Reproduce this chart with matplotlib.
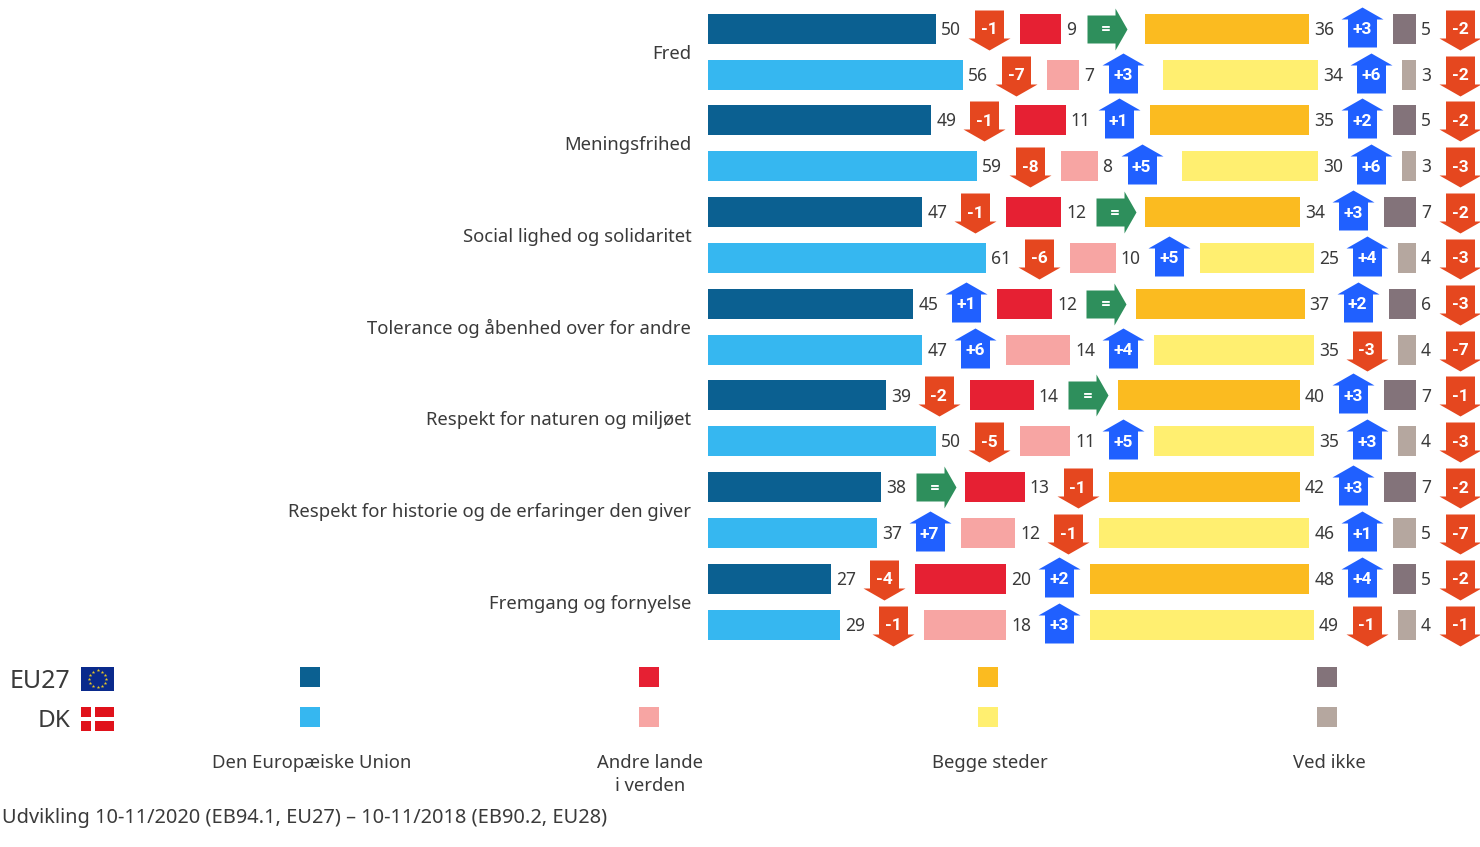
import numpy as np
import matplotlib
matplotlib.use('Agg')
import matplotlib.pyplot as plt
from matplotlib.path import Path
from matplotlib.patches import Rectangle
from matplotlib.transforms import Affine2D

plt.rcParams['font.family'] = ['Noto Sans', 'DejaVu Sans']

categories = ['Fred', 'Meningsfrihed', 'Social lighed og solidaritet', 'Tolerance og åbenhed over for andre',
              'Respekt for naturen og miljøet', 'Respekt for historie og de erfaringer den giver',
              'Fremgang og fornyelse']
legend_labels = ['Den Europæiske Union', 'Andre lande\ni verden', 'Begge steder', 'Ved ikke']
footnote = 'Udvikling 10-11/2020 (EB94.1, EU27) – 10-11/2018 (EB90.2, EU28)'

# each list goes EU27, DK, EU27, DK ... per category
union = [50, 56, 49, 59, 47, 61, 45, 47, 39, 50, 38, 37, 27, 29]
other = [9, 7, 11, 8, 12, 10, 12, 14, 14, 11, 13, 12, 20, 18]
both = [36, 34, 35, 30, 34, 25, 37, 35, 40, 35, 42, 46, 48, 49]
dont_know = [5, 3, 5, 3, 7, 4, 6, 4, 7, 4, 7, 5, 5, 4]

union_change = ['-1', '-7', '-1', '-8', '-1', '-6', '+1', '+6', '-2', '-5', '=', '+7', '-4', '-1']
other_change = ['=', '+3', '+1', '+5', '=', '+5', '=', '+4', '=', '+5', '-1', '-1', '+2', '+3']
both_change = ['+3', '+6', '+2', '+6', '+3', '+4', '+2', '-3', '+3', '+3', '+3', '+1', '+4', '-1']
dk_change = ['-2', '-2', '-2', '-3', '-2', '-3', '-3', '-7', '-1', '-3', '-2', '-7', '-2', '-1']

eu_colors = ['#0B6091', '#E62033', '#FBBB20', '#83737A']
dk_colors = ['#36B7F0', '#F7A5A3', '#FFEF70', '#B5A79F']

C_DOWN = '#E5471F'
C_UP = '#2060FF'
C_SAME = '#2E8F5C'
TXT = '#3a3a3a'

W, H = 1480, 847
PX = 4.56          # pixels per percent
GAP = 84 / PX      # space between the stacked segments
ROW = 45.85        # pixels per row

fig = plt.figure(figsize=(W / 100, H / 100), dpi=100)
ax = fig.add_axes([708 / W, 0, 772 / W, 1])
ax.set_xlim(0, 772 / PX)
ax.set_ylim((H - 28.7) / ROW, -28.7 / ROW)

arrow_up = Path([(-14.5, -20), (14.5, -20), (14.5, 8), (21, 8), (0, 20), (-21, 8), (-14.5, 8), (-14.5, -20)])
arrow_down = arrow_up.transformed(Affine2D().scale(1, -1))
arrow_right = Path([(-20, -14), (8, -14), (8, -21), (20, 0), (8, 21), (8, 14), (-20, 14), (-20, -14)])
MS = 42 * 0.72


def draw_change(x, y, change):
    if change == '=':
        ax.plot(x + 1.5 / PX, y, marker=arrow_right, ms=MS, color=C_SAME, mew=0, zorder=3)
    elif change.startswith('+'):
        ax.plot(x, y - 2 / ROW, marker=arrow_up, ms=MS, color=C_UP, mew=0, zorder=3)
    else:
        ax.plot(x, y + 1 / ROW, marker=arrow_down, ms=MS, color=C_DOWN, mew=0, zorder=3)
    label_x = x + 1 / PX if change == '=' else x
    ax.text(label_x, y + 1 / ROW, change, color='white', fontsize=12.5, family='Roboto', fontweight='bold',
            ha='center', va='center', zorder=4)


segments = [(union, union_change), (other, other_change), (both, both_change), (dont_know, dk_change)]
y_pos = np.arange(len(union))
left = np.zeros(len(union))
for k, (vals, changes) in enumerate(segments):
    colors = [eu_colors[k] if i % 2 == 0 else dk_colors[k] for i in y_pos]
    ax.barh(y_pos, vals, left=left, height=30 / ROW, color=colors, linewidth=0, zorder=2)
    for i, v in enumerate(vals):
        end = left[i] + v
        ax.text(end + 5 / PX, i + 1 / ROW, str(v), color=TXT, fontsize=12.5, ha='left', va='center')
        off = 53 if v >= 10 else 44
        draw_change(end + off / PX, i, changes[i])
    left = left + np.array(vals) + GAP

ax.set_yticks(np.arange(len(categories)) * 2 + 0.5)
ax.set_yticklabels(categories, fontsize=13.3, color=TXT)
ax.tick_params(axis='y', length=0, pad=12)
ax.set_xticks([])
for s in ax.spines.values():
    s.set_visible(False)
ax.patch.set_alpha(0)

# legend, in pixel coordinates
lg = fig.add_axes([0, 0, 1, 1])
lg.set_xlim(0, W)
lg.set_ylim(H, 0)
lg.axis('off')
lg.patch.set_alpha(0)

for k, x0 in enumerate([300, 639, 978, 1317]):
    lg.add_patch(Rectangle((x0, 667.5), 19.5, 19.5, color=eu_colors[k], lw=0))
    lg.add_patch(Rectangle((x0, 707.5), 19.5, 19.5, color=dk_colors[k], lw=0))
for x0, lab in zip([312, 650, 990, 1329], legend_labels):
    lg.text(x0, 753.5, lab, fontsize=13.3, color=TXT, ha='center', va='top', linespacing=1.42)

lg.text(70, 681, 'EU27', fontsize=18, color=TXT, ha='right', va='center')
lg.text(70, 721, 'DK', fontsize=17.5, color=TXT, ha='right', va='center')

# flags
lg.add_patch(Rectangle((81, 667), 33, 24, color='#0A2A8C', lw=0))
a = np.arange(12) * np.pi / 6
lg.scatter(97.5 + 8.5 * np.cos(a), 679 + 8.5 * np.sin(a), marker='*', s=7, color='#E8C826', linewidths=0)
lg.add_patch(Rectangle((81, 707.5), 33, 24, color='#E0121B', lw=0))
lg.add_patch(Rectangle((91, 707.5), 3.5, 24, color='white', lw=0))
lg.add_patch(Rectangle((81, 717.5), 33, 3.5, color='white', lw=0))

lg.text(2, 818, footnote, fontsize=14.4, color=TXT, ha='left', va='center')

fig.savefig('out.png', dpi=100)
